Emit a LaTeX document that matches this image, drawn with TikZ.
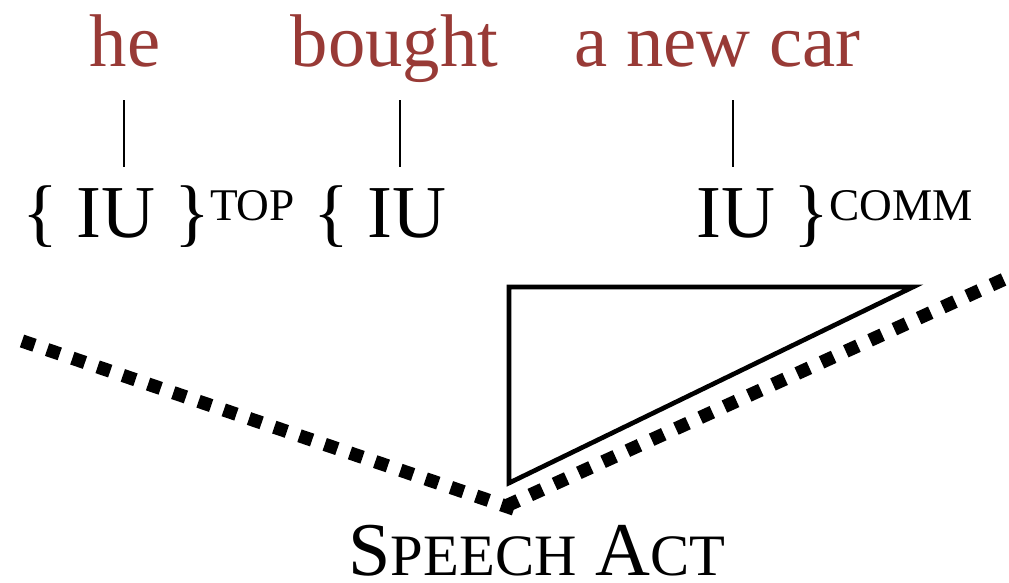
\documentclass[tikz,border=0pt]{standalone}
\usepackage{fontspec}
\setmainfont{Liberation Serif}
\usepackage{xcolor}
\usepackage{tikz}
\usetikzlibrary{positioning}
\definecolor{wordcolor}{RGB}{152,58,54}

\newcommand{\suplabel}[1]{\raisebox{12.75pt}{\fontsize{34}{34}\selectfont #1}}
\newcommand{\lowcaps}[1]{{\fontsize{44}{46}\selectfont #1}}

\begin{document}
\begin{tikzpicture}[
    x=0.75pt, y=-0.75pt,
    word/.style={anchor=base, inner sep=0pt, text=wordcolor, font=\fontsize{56}{60}\selectfont},
    unit/.style={anchor=base west, inner sep=0pt, font=\fontsize{56}{60}\selectfont},
    stem/.style={line width=2.2pt},
    tri/.style={line width=3.5pt, line join=miter},
    dots/.style={line width=10pt, dash pattern=on 10pt off 10pt},
]
    \useasboundingbox (0,0) rectangle (1009,582);

    % Words
    \node[word] (he) at (125,66) {he};
    \node[word] (bought) at (394.5,66) {bought};
    \node[word] (car) at (717.5,66) {a new car};

    % Intonation units
    \node[unit] (topic) at (22,237) {\{ IU \}\suplabel{TOP} \{ IU};
    \node[unit] (comment) at (696,237) {IU \}\suplabel{COMM}};

    % Stems
    \draw[stem] (he.base) ++(-1,34) -- ++(0,67);
    \draw[stem] (bought.base) ++(5.5,34) -- ++(0,67);
    \draw[stem] (car.base) ++(15.5,34) -- ++(0,67);

    % Triangle
    \coordinate (tl) at (509,287);
    \coordinate (tr) at (913,287);
    \coordinate (bl) at (509,483);
    \draw[tri] (bl) -- (tl) -- (tr) -- cycle;

    % Speech act
    \coordinate (apex) at (506,506);
    \coordinate (apexleft) at (514,509);
    \draw[dots] (apexleft) -- (22,341);
    \draw[dots] (apex) -- (1009,277);
    \node[anchor=base, inner sep=0pt, text depth=0pt, font=\fontsize{57}{60}\selectfont] (act) at (537,575)
        {S\lowcaps{PEECH} A\lowcaps{CT}};
\end{tikzpicture}
\end{document}
